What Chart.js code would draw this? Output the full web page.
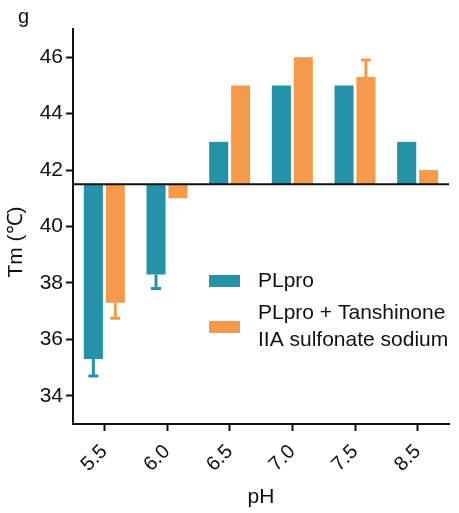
<!DOCTYPE html>
<html>
<head>
<meta charset="utf-8">
<script src="https://cdn.jsdelivr.net/npm/chart.js@4/dist/chart.umd.min.js"></script>
<style>
  html, body { margin: 0; padding: 0; background: #fff; }
  #wrap { width: 459px; height: 513px; position: relative; }
</style>
</head>
<body>
<div id="wrap"><canvas id="tmChart" width="459" height="513"></canvas></div>
<script>
// ── Data ────────────────────────────────────────────────────────────────────
const phLabels    = ['5.5', '6.0', '6.5', '7.0', '7.5', '8.5'];
const plproTm     = [35.3, 38.3, 43, 45, 45, 43];
const plproErr    = [0.6, 0.5, 0, 0, 0, 0];
const comboTm     = [37.3, 41, 45, 46, 45.3, 42];
const comboErr    = [0.55, 0, 0, 0, 0.6, 0];
const seriesNames = ['PLpro', ['PLpro + Tanshinone', 'IIA sulfonate sodium']];
const yTicks      = [34, 36, 38, 40, 42, 44, 46];
const yTitle      = 'Tm (℃)';
const baseTm      = 41.5;

const TEAL   = '#2492a8';
const ORANGE = '#f59a4a';
const FONT   = 'Arial, "Liberation Sans", sans-serif';

// ── Plugins ─────────────────────────────────────────────────────────────────
const extras = {
  id: 'extras',
  afterDatasetsDraw(chart) {
    const { ctx, chartArea, scales } = chart;
    const y = scales.y;

    // error bars (one sided, away from the base line)
    chart.data.datasets.forEach((ds, di) => {
      const meta = chart.getDatasetMeta(di);
      ds.errors.forEach((e, i) => {
        if (!e) return;
        const bar = meta.data[i];
        const v   = ds.data[i];
        const end = v < baseTm ? v - e : v + e;
        const y0  = y.getPixelForValue(v);
        const y1  = y.getPixelForValue(end);
        ctx.save();
        ctx.strokeStyle = ds.backgroundColor;
        ctx.lineWidth = 3;
        ctx.beginPath();
        ctx.moveTo(bar.x, y0);
        ctx.lineTo(bar.x, y1);
        ctx.moveTo(bar.x - 5, y1);
        ctx.lineTo(bar.x + 5, y1);
        ctx.stroke();
        ctx.restore();
      });
    });

    // base line
    const yb = y.getPixelForValue(baseTm);
    ctx.save();
    ctx.strokeStyle = '#111';
    ctx.lineWidth = 2;
    ctx.beginPath();
    ctx.moveTo(chartArea.left, yb);
    ctx.lineTo(chartArea.right, yb);
    ctx.stroke();
    ctx.restore();
  },
  afterDraw(chart) {
    const { ctx } = chart;
    ctx.save();
    ctx.fillStyle = '#111';
    ctx.font = '20px ' + FONT;
    ctx.textBaseline = 'alphabetic';
    ctx.fillText('g', 18, 23);

    // y axis title (sits a bit below the axis centre in the original)
    ctx.save();
    ctx.font = '21px ' + FONT;
    ctx.translate(16, 242);
    ctx.rotate(-Math.PI / 2);
    ctx.textAlign = 'center';
    ctx.textBaseline = 'middle';
    ctx.fillText(yTitle, 0, 0);
    ctx.restore();

    // legend
    ctx.font = '21px ' + FONT;
    const lx = 209, tx = 258;
    const rows = [{ y: 281, color: TEAL }, { y: 327, color: ORANGE }];
    chart.data.datasets.forEach((ds, i) => {
      const r = rows[i];
      ctx.fillStyle = r.color;
      ctx.fillRect(lx, r.y - 6, 31, 12);
      ctx.fillStyle = '#111';
      ctx.textBaseline = 'middle';
      const lines = Array.isArray(ds.label) ? ds.label : [ds.label];
      const lh = 27;
      const start = r.y - (lines.length - 1) * lh / 2;
      lines.forEach((t, k) => ctx.fillText(t, tx, start + k * lh));
    });
    ctx.restore();
  }
};

// ── Chart ───────────────────────────────────────────────────────────────────
new Chart(document.getElementById('tmChart'), {
  type: 'bar',
  data: {
    labels: phLabels,
    datasets: [
      { label: seriesNames[0], data: plproTm, errors: plproErr, backgroundColor: TEAL,
        base: baseTm, categoryPercentage: 0.7, barPercentage: 0.87 },
      { label: seriesNames[1], data: comboTm, errors: comboErr, backgroundColor: ORANGE,
        base: baseTm, categoryPercentage: 0.7, barPercentage: 0.87 }
    ]
  },
  options: {
    responsive: false,
    animation: false,
    layout: { padding: { top: 29, right: 10, left: 0, bottom: 0 } },
    plugins: {
      legend: { display: false },
      tooltip: { enabled: false }
    },
    scales: {
      x: {
        grid: { display: true, drawOnChartArea: false, offset: false, tickLength: 7,
                tickColor: '#111', tickWidth: 2 },
        border: { color: '#111', width: 2 },
        ticks: { color: '#111', font: { size: 20, family: FONT }, minRotation: 45, maxRotation: 45,
                 padding: 9 },
        title: { display: true, text: 'pH', color: '#111', font: { size: 21, family: FONT },
                 padding: { top: 8, bottom: 3 } },
        afterFit: s => { s.height = 89; }
      },
      y: {
        min: 33,
        max: 47,
        afterBuildTicks: s => { s.ticks = yTicks.map(v => ({ value: v })); },
        grid: { display: true, drawOnChartArea: false, tickLength: 7,
                tickColor: '#111', tickWidth: 2 },
        border: { color: '#111', width: 2 },
        ticks: { color: '#111', font: { size: 21, family: FONT }, padding: 3 },
        afterFit: s => { s.width = 73; }
      }
    }
  },
  plugins: [extras]
});
</script>
</body>
</html>
